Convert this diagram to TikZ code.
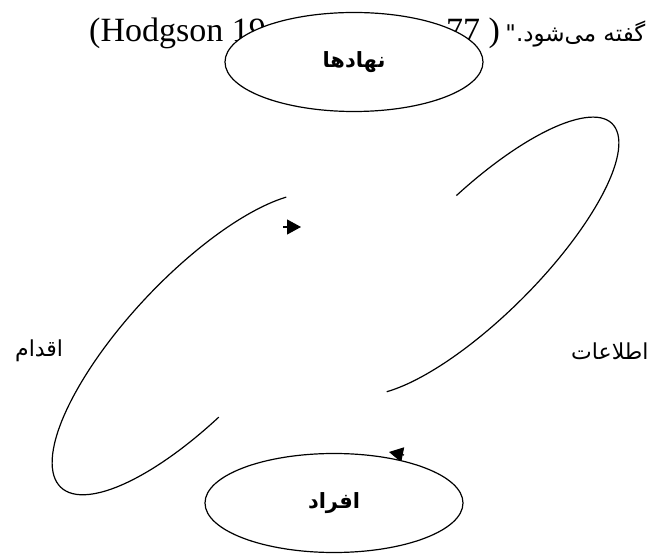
\documentclass[tikz,border=0pt]{standalone}
\usepackage{fontspec}
\setmainfont{Liberation Serif}
\newfontfamily\farsi[Script=Arabic]{DejaVu Sans}
\TeXXeTstate=1
\usetikzlibrary{shapes.geometric,arrows.meta}
\tikzset{
  entity/.style={ellipse, draw, fill=white, line width=1.2pt, minimum width=258pt, minimum height=99pt, font=\farsi\bfseries\fontsize{21}{25}\selectfont},
  flow/.style={line width=1.2pt},
  tip/.style={-{Triangle[length=14pt,width=15pt]}, line width=1.2pt},
  lbl/.style={font=\farsi\fontsize{22}{26}\selectfont, inner sep=0pt}
}
\begin{document}
\begin{tikzpicture}[x=1pt,y=1pt]
  \useasboundingbox (0,0) rectangle (656,554);
  % line of running text behind the top ellipse
  \node[anchor=base west, inner sep=0pt, font=\fontsize{34}{40}\selectfont] (cite) at (89,512) {(Hodgson 19};
  \node[anchor=base west, inner sep=0pt, font=\fontsize{34}{40}\selectfont] (page) at (446,512) {77 ) };
  \node[anchor=base west, inner sep=0pt, font=\farsi\fontsize{23}{28}\selectfont] (gofte) at ([xshift=5pt]page.base east) {\beginR گفته می‌شود."\endR};
  % the two cycle arcs
  \draw[flow, shift={(196,210)}, rotate=46.7] (31:197 and 68) arc[start angle=31, end angle=259, x radius=197, y radius=68];
  \draw[flow, shift={(480,298)}, rotate=45] (82:187 and 60) arc[start angle=82, end angle=-150, x radius=187, y radius=60];
  % arrow heads
  \coordinate (a1) at (283,327);
  \coordinate (a1e) at (301,327);
  \coordinate (a2) at (404,99);
  \coordinate (a2e) at (389,102);
  \draw[tip] (a1) -- (a1e);
  \draw[tip] (a2) -- (a2e);
  % ellipses
  \node[entity] (nahad) at (354,492) {\beginR نهادها\endR};
  \node[entity] (afrad) at (334,51) {\beginR افراد\endR};
  % side labels
  \node[lbl, anchor=west] (eqdam) at (15,203) {\beginR اقدام\endR};
  \node[lbl, anchor=west] (etelaat) at (571,203) {\beginR اطلاعات\endR};
\end{tikzpicture}
\end{document}
